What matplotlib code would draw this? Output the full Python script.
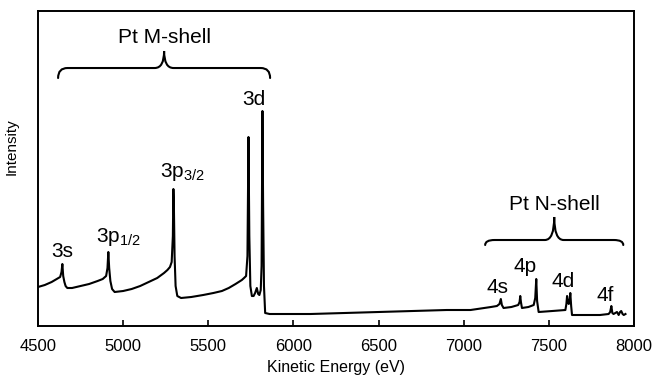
import matplotlib
matplotlib.use('Agg')
import matplotlib.pyplot as plt
from matplotlib.path import Path
from matplotlib.patches import PathPatch

plt.rcParams['font.family'] = ['Liberation Sans', 'DejaVu Sans']
plt.rcParams['mathtext.fontset'] = 'custom'
plt.rcParams['mathtext.rm'] = 'Liberation Sans'

# spectrum (eV, arbitrary intensity)
energy = [
    4500, 4540, 4580, 4610, 4630, 4638, 4643, 4648, 4655, 4662,
    4672, 4700, 4750, 4800, 4850, 4880, 4900, 4908, 4913, 4918,
    4925, 4935, 4950, 5000, 5050, 5100, 5150, 5200, 5240, 5260,
    5275, 5285, 5292, 5295, 5298, 5302, 5308, 5318, 5340, 5400,
    5470, 5530, 5580, 5620, 5660, 5697, 5710, 5722, 5730, 5736,
    5741, 5747, 5756, 5766, 5775, 5785, 5793, 5800, 5808, 5813,
    5818, 5822, 5827, 5834, 5860, 5900, 6100, 6300, 6500, 6700,
    6900, 7040, 7120, 7160, 7195, 7210, 7218, 7224, 7234, 7280,
    7320, 7328, 7332, 7336, 7342, 7380, 7411, 7420, 7426, 7431,
    7440, 7520, 7597, 7603, 7607, 7612, 7617, 7622, 7626, 7631,
    7636, 7700, 7800, 7851, 7860, 7867, 7873, 7880, 7900, 7910,
    7918, 7925, 7933, 7940, 7950,
]
intensity = [
    39, 41, 44, 47, 49, 54, 62, 50, 44, 40,
    38, 38, 40, 42, 45, 47, 50, 58, 74, 58,
    45, 37, 34, 35, 37, 40, 44, 48, 53, 56,
    59, 64, 90, 137, 120, 70, 40, 30, 28, 29,
    31, 33, 35, 38, 42, 46, 48, 50, 70, 189,
    90, 40, 30, 30, 33, 38, 32, 31, 36, 60,
    215, 120, 40, 13, 12, 12, 12, 13, 14, 15,
    16, 16, 18, 19, 20, 22, 27, 21, 18, 19,
    21, 24, 30, 24, 18, 19, 21, 28, 47, 25,
    14, 15, 16, 22, 30, 24, 22, 26, 33, 20,
    11, 11, 11, 12, 14, 20, 13, 12, 14, 11,
    14, 15, 12, 11, 12,
]

# peak labels: text, x, baseline y
peak_labels = ['3s', '3p$_{\\mathregular{1/2}}$', '3p$_{\\mathregular{3/2}}$', '3d',
               '4s', '4p', '4d', '4f']
peak_x = [4643, 4970, 5346, 5769, 7196, 7360, 7585, 7832]
peak_y = [69, 84, 149, 221, 33, 54, 39, 25]

# shell braces: label, x start, x end, tip y, bar y, cusp y, text y
shell_names = ['Pt M-shell', 'Pt N-shell']
brace_x0 = [4618, 7126]
brace_x1 = [5863, 7937]
brace_tip = [248, 81]
brace_bar = [258, 86]
brace_top = [275, 109]
shell_text_y = [283, 116]


def _brace(ax, x0, x1, y_tip, y_bar, y_top, rx=55):
    xc = (x0 + x1) / 2
    verts = [
        (x0, y_tip), (x0, y_bar), (x0 + rx, y_bar),
        (xc - rx, y_bar),
        (xc, y_bar), (xc, y_top),
        (xc, y_bar), (xc + rx, y_bar),
        (x1 - rx, y_bar),
        (x1, y_bar), (x1, y_tip),
    ]
    codes = [
        Path.MOVETO, Path.CURVE3, Path.CURVE3,
        Path.LINETO,
        Path.CURVE3, Path.CURVE3,
        Path.CURVE3, Path.CURVE3,
        Path.LINETO,
        Path.CURVE3, Path.CURVE3,
    ]
    ax.add_patch(PathPatch(Path(verts, codes), fill=False, lw=1.5,
                           edgecolor='black', capstyle='round'))
    return xc


fig = plt.figure(figsize=(6.53, 3.8), dpi=100)
ax = fig.add_axes([0.0582, 0.1421, 0.9127, 0.8289])

ax.plot(energy, intensity, color='black', lw=1.5)

for label, x, y in zip(peak_labels, peak_x, peak_y):
    ax.text(x, y, label, ha='center', va='baseline', fontsize=15)

for name, x0, x1, yt, yb, ytop, ty in zip(shell_names, brace_x0, brace_x1,
                                           brace_tip, brace_bar, brace_top,
                                           shell_text_y):
    xc = _brace(ax, x0, x1, yt, yb, ytop)
    ax.text(xc, ty, name, ha='center', va='baseline', fontsize=15)

ax.set_xlim(4500, 8000)
ax.set_ylim(0, 315)
ax.set_xticks(range(4500, 8001, 500))
ax.set_yticks([])
ax.tick_params(axis='x', direction='in', length=4, width=1.2,
               labelsize=12, pad=9)
for spine in ax.spines.values():
    spine.set_linewidth(1.4)

ax.set_xlabel('Kinetic Energy (eV)', fontsize=11.5, labelpad=5)
ax.set_ylabel('Intensity', fontsize=11)
ax.yaxis.set_label_coords(-0.032, 0.57)

fig.savefig('out.png', dpi=100)
